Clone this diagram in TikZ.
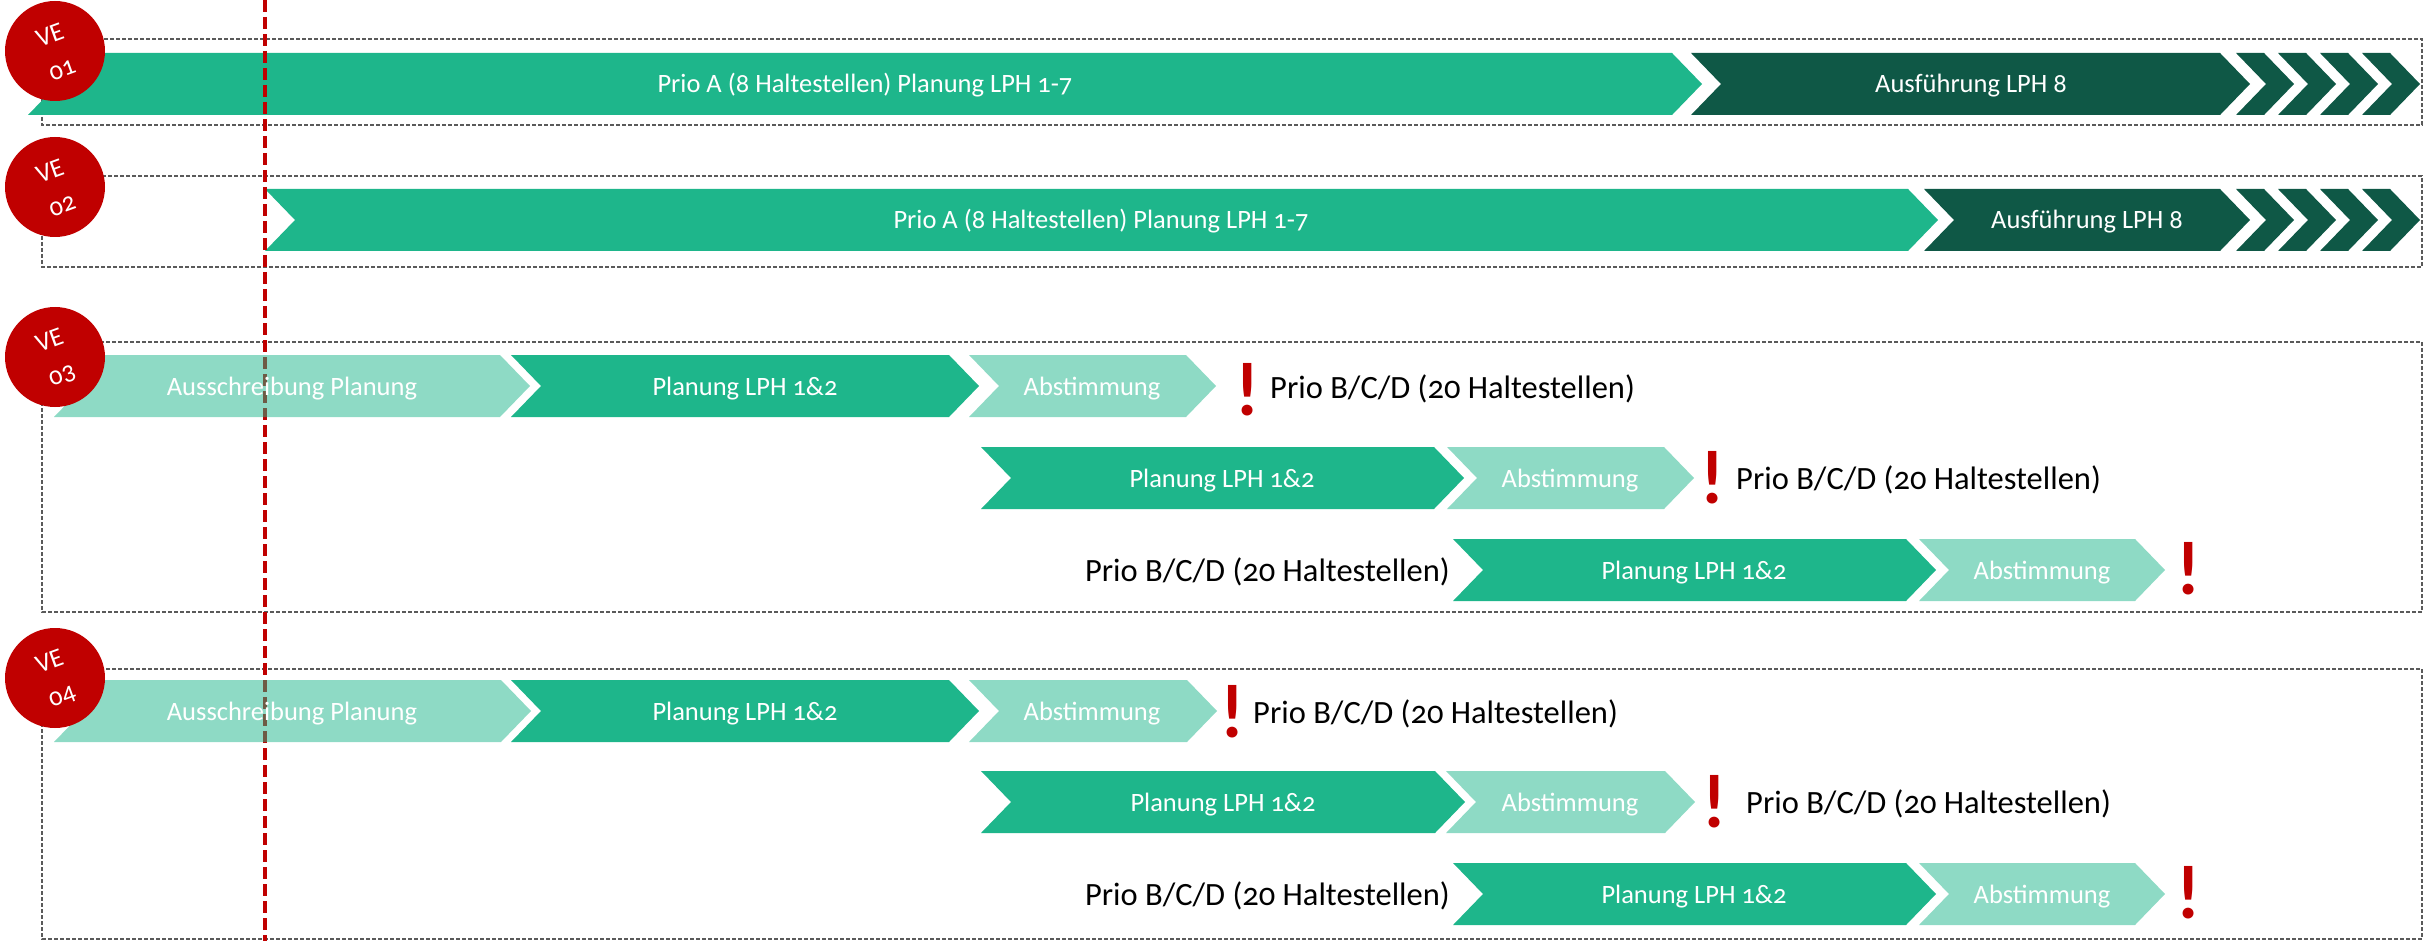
\documentclass[tikz,border=0pt]{standalone}
\usepackage{fontspec}
\setmainfont{Carlito}[Numbers=OldStyle]
\newfontfamily\exclfont{Lato}
\definecolor{grn}{HTML}{1EB68B}
\definecolor{dgrn}{HTML}{0F5846}
\definecolor{vered}{HTML}{C00000}
\definecolor{boxgray}{HTML}{5A5A5A}
\tikzset{
  wtext/.style={text=white, font=\fontsize{26.5}{30}\selectfont, inner sep=0pt, anchor=base},
  btext/.style={text=black, font=\fontsize{32.5}{36}\selectfont, inner sep=0pt},
  excl/.style={text=vered, font=\exclfont\bfseries\fontsize{72}{80}\selectfont, inner sep=0pt, anchor=base},
  vebox/.style={draw=boxgray, line width=1.5pt, dash pattern=on 4pt off 2pt},
  vecirc/.style={circle, fill=vered, minimum size=100pt, inner sep=0pt},
  vetext/.style={text=white, font=\fontsize{26}{36}\selectfont, inner sep=0pt, rotate=20, align=center},
  light/.style={fill=grn, fill opacity=0.5},
  redline/.style={draw=vered, line width=4.5pt, dash pattern=on 12pt off 5pt},
}
% chevron: top-left x, tip x, top y, bottom y, fill style
\newcommand{\chv}[5]{\fill[#5] (#1,#3) -- ({#2-30},#3) -- (#2,{(#3+#4)/2}) -- ({#2-30},#4) -- (#1,#4) -- ({#1+30},{(#3+#4)/2}) -- cycle;}
\newcommand{\smallchvs}[2]{%
  \chv{2236}{2294}{#1}{#2}{dgrn}
  \chv{2278}{2336}{#1}{#2}{dgrn}
  \chv{2320}{2378}{#1}{#2}{dgrn}
  \chv{2362}{2420}{#1}{#2}{dgrn}}
\begin{document}
\begin{tikzpicture}[x=1pt,y=-1pt]
\useasboundingbox (0,0) rectangle (2433,941);
% dashed frames
\draw[vebox] (42,39) rectangle (2422,125);
\draw[vebox] (42,176) rectangle (2422,267);
\draw[vebox] (42,342) rectangle (2422,612);
\draw[vebox] (42,669) rectangle (2422,939);
% VE01
\chv{28}{1702}{53}{115}{grn}
\chv{1691}{2250}{53}{115}{dgrn}
\smallchvs{53}{115}
% VE02
\chv{265}{1938}{189}{251}{grn}
\chv{1924}{2250}{189}{251}{dgrn}
\smallchvs{189}{251}
% VE03 solid
\chv{511}{979}{355}{417}{grn}
\chv{981}{1464}{447}{509}{grn}
\chv{1453}{1936}{539}{601}{grn}
% VE04 solid
\chv{511}{979}{680}{742}{grn}
\chv{981}{1465}{771}{833}{grn}
\chv{1453}{1936}{863}{925}{grn}
% red milestone line
\coordinate (rtop) at (265,0);
\coordinate (rbot) at (265,941);
\draw[redline] (rtop) -- (rbot);
% light arrows
\chv{54}{530}{355}{417}{light}
\chv{969}{1216}{355}{417}{light}
\chv{1447}{1694}{447}{509}{light}
\chv{1919}{2165}{539}{601}{light}
\chv{54}{531}{680}{742}{light}
\chv{969}{1217}{680}{742}{light}
\chv{1446}{1695}{771}{833}{light}
\chv{1919}{2165}{863}{925}{light}
% circles
\node[vecirc] (c1) at (55,51) {};
\node[vecirc] (c2) at (55,187) {};
\node[vecirc] (c3) at (55,357) {};
\node[vecirc] (c4) at (55,678) {};
\node[vetext] (c1t) at (56,52) {VE\\01};
\node[vetext] (c2t) at (56,188) {VE\\02};
\node[vetext] (c3t) at (56,358) {VE\\03};
\node[vetext] (c4t) at (56,679) {VE\\04};
% white labels
\node[wtext] (a1) at (865,93) {Prio A (8 Haltestellen) Planung LPH 1-7};
\node[wtext] (a2) at (1971,93) {Ausführung LPH 8};
\node[wtext] (b1) at (1101,229) {Prio A (8 Haltestellen) Planung LPH 1-7};
\node[wtext] (b2) at (2087,229) {Ausführung LPH 8};
\node[wtext] (p31) at (292,395) {Ausschreibung Planung};
\node[wtext] (p32) at (745,395) {Planung LPH 1\&2};
\node[wtext] (p33) at (1092,395) {Abstimmung};
\node[wtext] (p34) at (1222,487) {Planung LPH 1\&2};
\node[wtext] (p35) at (1570,487) {Abstimmung};
\node[wtext] (p36) at (1694,579) {Planung LPH 1\&2};
\node[wtext] (p37) at (2042,579) {Abstimmung};
\node[wtext] (p41) at (292,720) {Ausschreibung Planung};
\node[wtext] (p42) at (745,720) {Planung LPH 1\&2};
\node[wtext] (p43) at (1092,720) {Abstimmung};
\node[wtext] (p44) at (1223,811) {Planung LPH 1\&2};
\node[wtext] (p45) at (1570,811) {Abstimmung};
\node[wtext] (p46) at (1694,903) {Planung LPH 1\&2};
\node[wtext] (p47) at (2042,903) {Abstimmung};
% exclamation marks
\node[excl] (e31) at (1248,415) {!};
\node[excl] (e32) at (1713,503) {!};
\node[excl] (e33) at (2189,594) {!};
\node[excl] (e41) at (1233,737) {!};
\node[excl] (e42) at (1715,827) {!};
\node[excl] (e43) at (2189,918) {!};
% black labels
\node[btext, anchor=base west] (t31) at (1270,398) {Prio B/C/D (20 Haltestellen)};
\node[btext, anchor=base west] (t32) at (1736,489) {Prio B/C/D (20 Haltestellen)};
\node[btext, anchor=base east] (t33) at (1450,581) {Prio B/C/D (20 Haltestellen)};
\node[btext, anchor=base west] (t41) at (1253,723) {Prio B/C/D (20 Haltestellen)};
\node[btext, anchor=base west] (t42) at (1746,813) {Prio B/C/D (20 Haltestellen)};
\node[btext, anchor=base east] (t43) at (1450,905) {Prio B/C/D (20 Haltestellen)};
\end{tikzpicture}
\end{document}
